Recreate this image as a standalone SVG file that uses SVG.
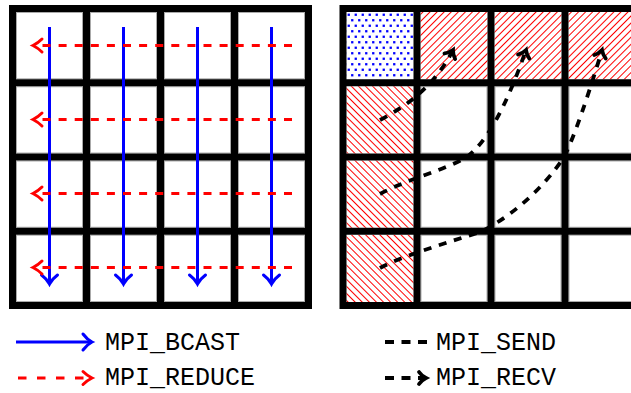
<svg xmlns="http://www.w3.org/2000/svg" width="631" height="393" viewBox="0 0 631 393">
<style>
.bg{fill:#fff}
.cell{fill:#fff;stroke:#aaa;stroke-width:1}
.grid{fill:none;stroke:#000;stroke-width:7;stroke-linecap:square}
.bc{fill:none;stroke:#00f;stroke-width:3}
.rd{fill:none;stroke:#f00;stroke-width:3;stroke-dasharray:8 8.1}
.snd{fill:none;stroke:#000;stroke-width:3.8;stroke-dasharray:8 7.8}
.lbl{font-family:"Liberation Mono","DejaVu Sans Mono",monospace;font-size:25px;fill:#000}
</style>
<defs>
<pattern id="ne" width="5" height="5" patternUnits="userSpaceOnUse" patternTransform="rotate(45)"><rect width="5" height="5" fill="#fff"/><line x1="2.5" y1="-1" x2="2.5" y2="6" stroke="#f00" stroke-width="1"/></pattern>
<pattern id="nw" width="5" height="5" patternUnits="userSpaceOnUse" patternTransform="rotate(-45)"><rect width="5" height="5" fill="#fff"/><line x1="2.5" y1="-1" x2="2.5" y2="6" stroke="#f00" stroke-width="1"/></pattern>
<pattern id="dots" width="7" height="11" patternUnits="userSpaceOnUse" x="347" y="12"><rect width="7" height="11" fill="#fff"/><rect x="0.6" y="1.6" width="2.3" height="2.3" fill="#00f"/><rect x="4.1" y="7.1" width="2.3" height="2.3" fill="#00f"/></pattern>
<marker id="ab" markerUnits="userSpaceOnUse" markerWidth="30" markerHeight="30" viewBox="-15 -15 30 30" refX="0" refY="0" orient="auto" overflow="visible"><path d="M-9,-8 C-6,-4 -2,-1 0,0 C-2,1 -6,4 -9,8" fill="none" stroke="#00f" stroke-width="3" stroke-linecap="round"/></marker>
<marker id="ar" markerUnits="userSpaceOnUse" markerWidth="30" markerHeight="30" viewBox="-15 -15 30 30" refX="0" refY="0" orient="auto" overflow="visible"><path d="M-9,-6.5 C-6,-3.5 -2,-1 0,0 C-2,1 -6,3.5 -9,6.5" fill="none" stroke="#f00" stroke-width="3" stroke-linecap="round"/></marker>
<marker id="ak" markerUnits="userSpaceOnUse" markerWidth="30" markerHeight="30" viewBox="-15 -15 30 30" refX="0" refY="0" orient="auto" overflow="visible"><path d="M-7,-6 C-5,-3 -2,-1 0,0 C-2,1 -5,3 -7,6" fill="none" stroke="#000" stroke-width="3.8" stroke-linecap="round"/></marker>
</defs>
<rect class="bg" width="631" height="393"/>

<!-- Left grid cells -->
<g id="left-cells">
<g id="L00"><rect class="cell" x="16.5" y="12.5" width="66" height="66.25"/></g>
<g id="L01"><rect class="cell" x="90.5" y="12.5" width="66" height="66.25"/></g>
<g id="L02"><rect class="cell" x="164.5" y="12.5" width="66" height="66.25"/></g>
<g id="L03"><rect class="cell" x="238.5" y="12.5" width="66" height="66.25"/></g>
<g id="L10"><rect class="cell" x="16.5" y="86.75" width="66" height="66.25"/></g>
<g id="L11"><rect class="cell" x="90.5" y="86.75" width="66" height="66.25"/></g>
<g id="L12"><rect class="cell" x="164.5" y="86.75" width="66" height="66.25"/></g>
<g id="L13"><rect class="cell" x="238.5" y="86.75" width="66" height="66.25"/></g>
<g id="L20"><rect class="cell" x="16.5" y="161" width="66" height="66.25"/></g>
<g id="L21"><rect class="cell" x="90.5" y="161" width="66" height="66.25"/></g>
<g id="L22"><rect class="cell" x="164.5" y="161" width="66" height="66.25"/></g>
<g id="L23"><rect class="cell" x="238.5" y="161" width="66" height="66.25"/></g>
<g id="L30"><rect class="cell" x="16.5" y="235.25" width="66" height="66.25"/></g>
<g id="L31"><rect class="cell" x="90.5" y="235.25" width="66" height="66.25"/></g>
<g id="L32"><rect class="cell" x="164.5" y="235.25" width="66" height="66.25"/></g>
<g id="L33"><rect class="cell" x="238.5" y="235.25" width="66" height="66.25"/></g>
</g>
<g id="left-grid" class="grid">
<rect x="12.5" y="8.5" width="296" height="297"/>
<path d="M86.5,8.5V305.5M160.5,8.5V305.5M234.5,8.5V305.5M12.5,82.75H308.5M12.5,157H308.5M12.5,231.25H308.5"/>
</g>

<!-- Right grid cells -->
<g id="right-cells">
<g id="R00"><rect x="346.5" y="12" width="67" height="67.25" fill="url(#dots)"/></g>
<g id="R01"><rect x="420.5" y="12" width="67" height="67.25" fill="url(#ne)"/></g>
<g id="R02"><rect x="494.5" y="12" width="67" height="67.25" fill="url(#ne)"/></g>
<g id="R03"><rect x="568.5" y="12" width="67" height="67.25" fill="url(#ne)"/></g>
<g id="R10"><rect x="346.5" y="86.25" width="67" height="67.25" fill="url(#nw)"/></g>
<g id="R11"><rect class="cell" x="421" y="86.75" width="66" height="66.25"/></g>
<g id="R12"><rect class="cell" x="495" y="86.75" width="66" height="66.25"/></g>
<g id="R13"><rect class="cell" x="569" y="86.75" width="66" height="66.25"/></g>
<g id="R20"><rect x="346.5" y="160.5" width="67" height="67.25" fill="url(#nw)"/></g>
<g id="R21"><rect class="cell" x="421" y="161" width="66" height="66.25"/></g>
<g id="R22"><rect class="cell" x="495" y="161" width="66" height="66.25"/></g>
<g id="R23"><rect class="cell" x="569" y="161" width="66" height="66.25"/></g>
<g id="R30"><rect x="346.5" y="234.75" width="67" height="67.25" fill="url(#nw)"/></g>
<g id="R31"><rect class="cell" x="421" y="235.25" width="66" height="66.25"/></g>
<g id="R32"><rect class="cell" x="495" y="235.25" width="66" height="66.25"/></g>
<g id="R33"><rect class="cell" x="569" y="235.25" width="66" height="66.25"/></g>
</g>

<!-- Connectors -->
<g id="connectors">
<g id="send-recv">
<path class="snd" d="M380,120 C410,104 435,85 453,50" marker-end="url(#ak)"/>
<path class="snd" d="M380,194 C405,180 445,170 465,158 C485,145 505,110 526,50" marker-end="url(#ak)"/>
<path class="snd" d="M380,268 C400,257 440,245 480,232 C515,215 545,185 562,160 C572,145 590,90 602,50" marker-end="url(#ak)"/>
</g>
</g>

<g id="right-grid" class="grid">
<path d="M343,8.5V305.5M417,8.5V305.5M491,8.5V305.5M565,8.5V305.5M343,8.5H640M343,82.75H640M343,157H640M343,231.25H640M343,305.5H640"/>
</g>

<g id="bcast-reduce">
<path class="bc" d="M49.5,27V284" marker-end="url(#ab)"/>
<path class="bc" d="M123.5,27V284" marker-end="url(#ab)"/>
<path class="bc" d="M197.5,27V284" marker-end="url(#ab)"/>
<path class="bc" d="M271.5,27V284" marker-end="url(#ab)"/>
<path class="rd" d="M292,45.5H33" marker-end="url(#ar)"/>
<path class="rd" d="M292,119.5H33" marker-end="url(#ar)"/>
<path class="rd" d="M292,193.5H33" marker-end="url(#ar)"/>
<path class="rd" d="M292,267.5H33" marker-end="url(#ar)"/>
</g>

<!-- Legend -->
<g id="legend">
<g id="leg-bcast"><path class="bc" d="M16,342H92" marker-end="url(#ab)"/><text class="lbl" x="105" y="350">MPI_BCAST</text></g>
<g id="leg-reduce"><path class="rd" style="stroke-dasharray:8.5 10.5" d="M18,378H92" marker-end="url(#ar)"/><text class="lbl" x="105" y="385">MPI_REDUCE</text></g>
<g id="leg-send"><path class="snd" style="stroke-dasharray:9 7.5" d="M385,342H427"/><text class="lbl" x="436" y="350">MPI_SEND</text></g>
<g id="leg-recv"><path class="snd" style="stroke-dasharray:9 7.5" d="M385,378H426" marker-end="url(#ak)"/><text class="lbl" x="436" y="385">MPI_RECV</text></g>
</g>
</svg>
